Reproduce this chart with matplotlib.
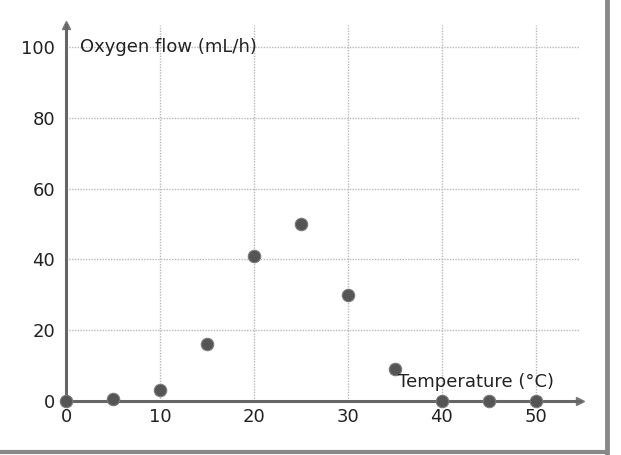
import numpy as np
import matplotlib
matplotlib.use("Agg")
import matplotlib.pyplot as plt
from matplotlib.lines import Line2D

# data
temperature = [0, 5, 10, 15, 20, 25, 30, 35, 40, 45, 50]
oxygen_flow = [0, 0.5, 3, 16, 41, 50, 30, 9, 0, 0, 0]

x_ticks = [0, 10, 20, 30, 40, 50]
y_ticks = [0, 20, 40, 60, 80, 100]

fig = plt.figure(figsize=(6.21, 4.55), dpi=100)
ax = fig.add_axes([66 / 621, 54 / 455, 514 / 621, 376 / 455])
ax.set_xlim(0, 54.7)
ax.set_ylim(0, 106.2)

# grid
for xv in x_ticks[1:]:
    ax.axvline(xv, color="#b8b8b8", lw=1, ls=(0, (1, 1)), zorder=1)
for yv in y_ticks[1:]:
    ax.axhline(yv, color="#b8b8b8", lw=1, ls=(0, (1, 1)), zorder=1)

# axes with arrows
for s in ["top", "right"]:
    ax.spines[s].set_visible(False)
for s in ["left", "bottom"]:
    ax.spines[s].set_color("#666666")
    ax.spines[s].set_linewidth(2.2)
ax.plot(1, 0, ">", color="#777777", ms=6, transform=ax.transAxes, clip_on=False)
ax.plot(0, 1, "^", color="#777777", ms=6, transform=ax.transAxes, clip_on=False)

ax.scatter(temperature, oxygen_flow, s=80, color="#555555", marker="o",
           zorder=5, clip_on=False, edgecolors="#7a7a7a", linewidths=0.8)

ax.set_xticks(x_ticks)
ax.set_yticks(y_ticks)
ax.tick_params(length=0, labelsize=13, colors="#222222")
ax.tick_params(axis="y", pad=8)
ax.tick_params(axis="x", pad=5)

ax.text(1.5, 100, "Oxygen flow (mL/h)", fontsize=13, color="#222222",
        va="center", ha="left", zorder=6)
ax.text(35.3, 5.4, "Temperature (°C)", fontsize=13, color="#222222",
        va="center", ha="left", zorder=6)

# scanned frame edges
fig.add_artist(Line2D([607 / 621, 607 / 621], [0, 1], color="#888888", lw=3.5,
                      transform=fig.transFigure))
fig.add_artist(Line2D([0, 607 / 621], [3 / 455, 3 / 455], color="#888888", lw=3,
                      transform=fig.transFigure))

fig.savefig("out.png", dpi=100, facecolor="white")
